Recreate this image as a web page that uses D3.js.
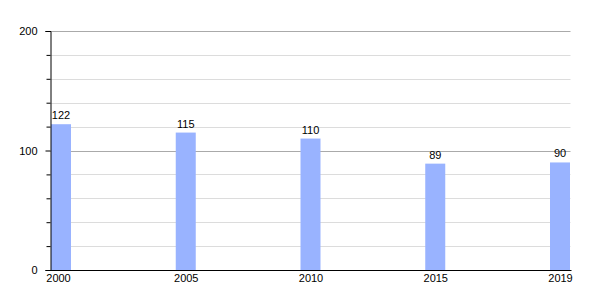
<!DOCTYPE html>
<html><head><meta charset="utf-8">
<script src="https://cdn.jsdelivr.net/npm/d3@7"></script>
<style>body{margin:0;background:#fff}svg{display:block}text{font-family:"Liberation Sans",Arial,sans-serif}</style>
</head><body><svg id="c" width="600" height="300"></svg>
<script>
const years = ["2000","2005","2010","2015","2019"];
const values = [122,115,110,89,90];
const majorTicks = [0,100,200];
const minorTicks = [20,40,60,80,120,140,160,180];

(function(){
const svg = d3.select("#c");
const mLeft = 50.5, mRight = 570.5, mTop = 31, mBottom = 270;
const y = d3.scaleLinear().domain([0,200]).range([mBottom, mTop]);
const x = d3.scalePoint().domain(years).range([61, 560]);
const bw = 20;

// minor grid
svg.append("g").selectAll("line").data(minorTicks).join("line")
  .attr("x1", mLeft).attr("x2", mRight)
  .attr("y1", d => Math.round(y(d)) + 0.5).attr("y2", d => Math.round(y(d)) + 0.5)
  .attr("stroke", "#dcdcdc").attr("stroke-width", 1);
// major grid
svg.append("g").selectAll("line").data(majorTicks.filter(d => d > 0)).join("line")
  .attr("x1", mLeft).attr("x2", mRight)
  .attr("y1", d => Math.round(y(d)) + 0.5).attr("y2", d => Math.round(y(d)) + 0.5)
  .attr("stroke", "#aaaaaa").attr("stroke-width", 1);

// bars
svg.append("g").selectAll("rect").data(values).join("rect")
  .attr("x", (d,i) => x(years[i]) - bw/2)
  .attr("width", bw)
  .attr("y", d => y(d))
  .attr("height", d => y(0) - y(d))
  .attr("fill", "#99b3ff");

// value labels
svg.append("g").selectAll("text").data(values).join("text")
  .attr("x", (d,i) => x(years[i]))
  .attr("y", d => y(d) - 5)
  .attr("text-anchor", "middle")
  .attr("font-size", 11)
  .attr("fill", "#000")
  .text(d => d);

// y axis
const yAxis = d3.axisLeft(y).tickValues(majorTicks).tickSize(5).tickPadding(8).tickFormat(d3.format("d"));
const gy = svg.append("g").attr("transform", `translate(${mLeft},0)`).call(yAxis);
gy.select(".domain").attr("stroke", "#000");
gy.selectAll("text").attr("font-size", 11).attr("font-family", '"Liberation Sans",Arial,sans-serif').attr("fill","#000");
const yMinor = d3.axisLeft(y).tickValues(minorTicks).tickSize(4).tickFormat("");
const gym = svg.append("g").attr("transform", `translate(${mLeft},0)`).call(yMinor);
gym.select(".domain").remove();

// x axis
const xAxis = d3.axisBottom(x).tickSize(0).tickPadding(4);
const gx = svg.append("g").attr("transform", `translate(0,${mBottom + 0.5})`).call(xAxis);
gx.select(".domain").attr("d", `M${mLeft},0H${mRight + 1}`).attr("stroke", "#000");
gx.selectAll("text").attr("font-size", 11).attr("font-family", '"Liberation Sans",Arial,sans-serif').attr("fill","#000");
gx.selectAll("text").attr("x", (d,i) => i === 0 ? -3 : 0);
})();
</script></body></html>
